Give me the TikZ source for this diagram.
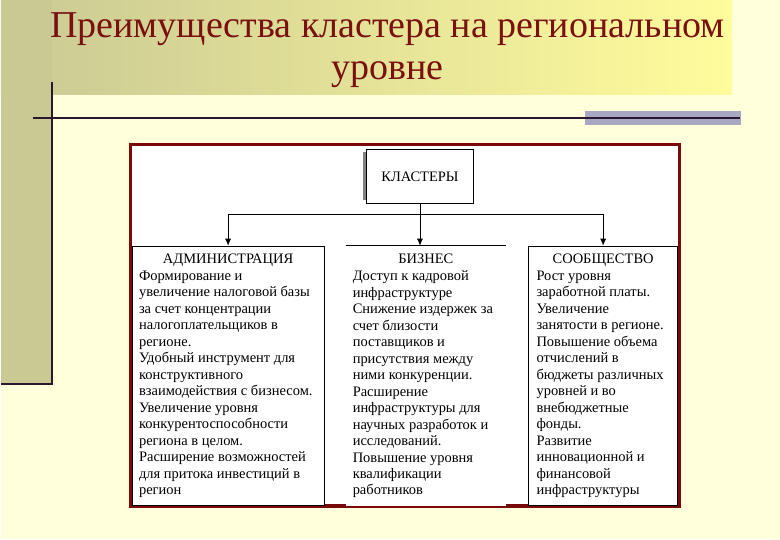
\documentclass[tikz,border=0pt]{standalone}
\usepackage{fontspec}
\setmainfont{Liberation Serif}
\usepackage{xcolor}
\definecolor{bgPale}{HTML}{FFFFDC}
\definecolor{bgKhaki}{HTML}{C9C994}
\definecolor{bgYellow}{HTML}{FFFC9C}
\definecolor{titleRed}{HTML}{7A1010}
\definecolor{frameRed}{HTML}{7A0A0A}
\definecolor{barGray}{HTML}{A9A8C2}
\definecolor{lineDark}{HTML}{2B1830}
\usetikzlibrary{arrows.meta,positioning}

\begin{document}
\begin{tikzpicture}[x=1pt, y=-1pt,
  colbox/.style={draw=black, line width=0.8pt, fill=white, anchor=north west, inner sep=0pt, minimum height=260pt},
  colhead/.style={font=\fontsize{14.5}{16}\selectfont, inner sep=0pt},
  coltext/.style={font=\fontsize{14.5}{16.5}\selectfont, align=left, anchor=north west, inner sep=0pt},
  link/.style={line width=0.8pt, -{Latex[length=7pt,width=6pt]}}]
  % background
  \fill[bgPale] (0,0) rectangle (780,540);
  \shade[left color=bgKhaki, right color=bgYellow] (0,0) rectangle (732,95);
  \fill[bgKhaki] (0,0) rectangle (51,384);
  \draw[lineDark, line width=2pt] (0,384) -- (51,384) -- (51,82);
  \fill[barGray] (585,111) rectangle (741,125);
  \draw[lineDark, line width=2pt] (32,118) -- (740,118);
  \node[font=\fontsize{38}{42}\selectfont, text=titleRed, align=center] (title) at (387,50) {Преимущества кластера на региональном\\уровне};
  % frame
  \draw[frameRed, line width=3.5pt, fill=white] (129.5,144.5) rectangle (679.5,506.5);
  % top box
  \fill[gray] (362,152) rectangle (366,200);
  \node[draw, line width=0.8pt, fill=white, minimum width=107pt, minimum height=54pt, font=\fontsize{14.5}{16}\selectfont] (clusters) at (419.5,177) {КЛАСТЕРЫ};
  % columns
  \node[colbox, minimum width=192pt] (admin) at (131,246) {};
  \node[colbox, draw=none, minimum width=160pt] (business) at (345,246) {};
  \draw[line width=0.8pt] (business.north west) -- (business.north east);
  \node[colbox, minimum width=149pt] (society) at (528,246) {};
  \node[colhead, below=8pt of admin.north] (adminhead) {АДМИНИСТРАЦИЯ};
  \node[colhead, below=8pt of business.north] (businesshead) {БИЗНЕС};
  \node[colhead, below=8pt of society.north] (societyhead) {СООБЩЕСТВО};
  \node[coltext] (admintext) at (138,271) {Формирование и\\увеличение налоговой базы\\за счет концентрации\\налогоплательщиков в\\регионе.\\Удобный инструмент для\\конструктивного\\взаимодействия с бизнесом.\\Увеличение уровня\\конкурентоспособности\\региона в целом.\\Расширение возможностей\\для притока инвестиций в\\регион};
  \node[coltext] (businesstext) at (352,271) {Доступ к кадровой\\инфраструктуре\\Снижение издержек за\\счет близости\\поставщиков и\\присутствия между\\ними конкуренции.\\Расширение\\инфраструктуры для\\научных разработок и\\исследований.\\Повышение уровня\\квалификации\\работников};
  \node[coltext] (societytext) at (536,271) {Рост уровня\\заработной платы.\\Увеличение\\занятости в регионе.\\Повышение объема\\отчислений в\\бюджеты различных\\уровней и во\\внебюджетные\\фонды.\\Развитие\\инновационной и\\финансовой\\инфраструктуры};
  % connectors
  \draw[line width=0.8pt] (clusters.south) -- ++(0,10) coordinate (fork);
  \draw[link] (fork) -| (admin.north);
  \draw[link] (fork) -- (fork |- business.north);
  \draw[link] (fork) -| (society.north);
  \useasboundingbox (0,0) rectangle (780,540);
\end{tikzpicture}
\end{document}
